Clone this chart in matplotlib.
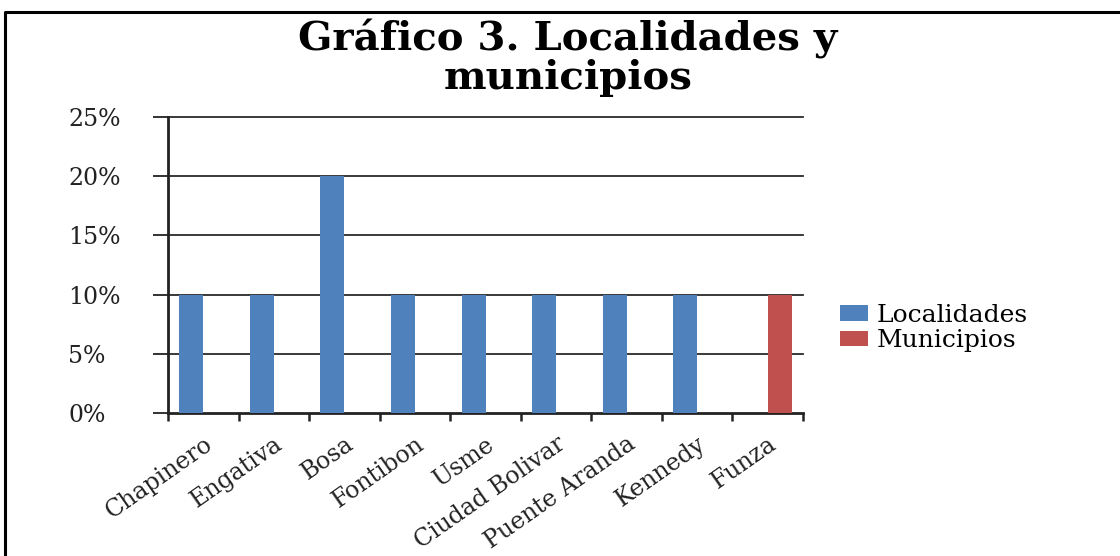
import numpy as np
import matplotlib
matplotlib.use("Agg")
import matplotlib.pyplot as plt
from matplotlib.patches import Patch
from matplotlib.lines import Line2D

categorias = ["Chapinero", "Engativa", "Bosa", "Fontibon", "Usme",
              "Ciudad Bolivar", "Puente Aranda", "Kennedy", "Funza"]
localidades = [0.10, 0.10, 0.20, 0.10, 0.10, 0.10, 0.10, 0.10, 0.0]
municipios = [0.0, 0.0, 0.0, 0.0, 0.0, 0.0, 0.0, 0.0, 0.10]
yticks = [0, 0.05, 0.10, 0.15, 0.20, 0.25]
ylabels = ["0%", "5%", "10%", "15%", "20%", "25%"]

azul = "#4F81BD"
rojo = "#C0504D"

fig = plt.figure(figsize=(11.2, 5.56), dpi=100)
ax = fig.add_axes([0.15, 0.257, 0.567, 0.533])

x = np.arange(len(categorias))
w = 0.34
ax.bar(x - w / 2, localidades, w, color=azul, zorder=3)
ax.bar(x + w / 2, municipios, w, color=rojo, zorder=3)

ax.set_xlim(-0.5, len(categorias) - 0.5)
ax.set_ylim(0, 0.25)

# grid lines
for t in yticks[1:]:
    ax.axhline(t, color="#2a2a2a", lw=1.3, zorder=1, clip_on=False)

for s in ["top", "right"]:
    ax.spines[s].set_visible(False)
ax.spines["left"].set_linewidth(2)
ax.spines["bottom"].set_linewidth(2)
ax.spines["left"].set_color("#222222")
ax.spines["bottom"].set_color("#222222")

ax.set_yticks(yticks)
ax.set_yticklabels(ylabels, fontsize=17, family="DejaVu Serif", color="#222222")
ax.tick_params(axis="y", length=11, width=1.3, color="#222222", pad=61)
for lbl in ax.get_yticklabels():
    lbl.set_horizontalalignment("left")

ax.set_xticks(x)
ax.set_xticklabels(categorias, rotation=35, ha="right", rotation_mode="anchor",
                   fontsize=17, family="DejaVu Serif", color="#222222")
ax.tick_params(axis="x", which="major", length=0, pad=14)
ax.set_xticks(np.arange(-0.5, len(categorias), 1.0), minor=True)
ax.tick_params(axis="x", which="minor", length=6, width=1.8, color="#222222")

fig.text(0.507, 0.895, "Gráfico 3. Localidades y\nmunicipios", ha="center", va="center",
         fontsize=29, fontweight="bold", family="DejaVu Serif", linespacing=1.0)

handles = [Patch(facecolor=azul, label="Localidades"),
           Patch(facecolor=rojo, label="Municipios")]
fig.legend(handles=handles, loc="center left", bbox_to_anchor=(0.75, 0.41),
           frameon=False, prop={"family": "DejaVu Serif", "size": 18},
           handlelength=1.1, handleheight=0.6, handletextpad=0.35, labelspacing=0.1,
           borderpad=0, borderaxespad=0)

# chart frame (left and top edges)
fig.add_artist(Line2D([0.0045, 0.0045, 1.0], [0.0, 0.978, 0.978],
                      transform=fig.transFigure, color="black", lw=2.2))

fig.savefig("out.png", dpi=100)
